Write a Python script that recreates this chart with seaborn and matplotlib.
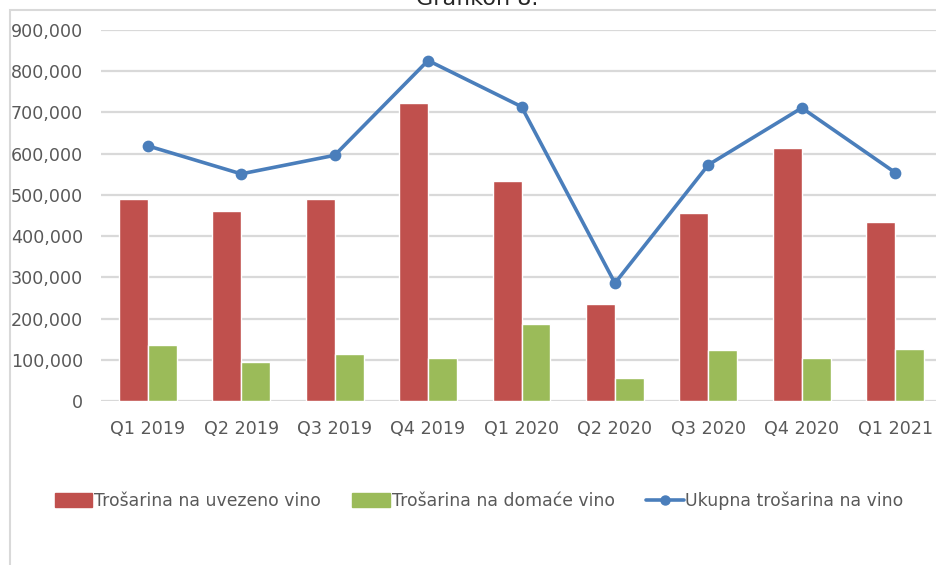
import pandas as pd
import seaborn as sns
import matplotlib.pyplot as plt
from matplotlib.patches import Rectangle
from matplotlib.ticker import FuncFormatter

quarters = ['Q1 2019', 'Q2 2019', 'Q3 2019', 'Q4 2019', 'Q1 2020',
            'Q2 2020', 'Q3 2020', 'Q4 2020', 'Q1 2021']
uvezeno = [489000, 462000, 489000, 724000, 534000, 235000, 455000, 613000, 435000]
domace = [136000, 95000, 115000, 104000, 187000, 57000, 123000, 104000, 126000]
ukupno = [619000, 551000, 596000, 826000, 714000, 286000, 573000, 711000, 554000]

lbl_uv = 'Trošarina na uvezeno vino'
lbl_do = 'Trošarina na domaće vino'
lbl_uk = 'Ukupna trošarina na vino'

red = '#C0504D'
green = '#9BBB59'
blue = '#4A7EBB'
grey_txt = '#595959'
grid_c = '#D9D9D9'

if __name__ == '__main__':
    sns.set_style('white')
    plt.rcParams['font.family'] = ['DejaVu Sans']

    df = pd.DataFrame({
        'kvartal': quarters * 2,
        'serija': [lbl_uv] * len(quarters) + [lbl_do] * len(quarters),
        'iznos': uvezeno + domace,
    })

    fig = plt.figure(figsize=(9.36, 5.65), dpi=100)
    ax = fig.add_axes([101 / 936, 1 - 401 / 565, 841 / 936, 371 / 565])

    sns.barplot(data=df, x='kvartal', y='iznos', hue='serija', order=quarters,
                palette=[red, green], width=0.62, saturation=1, ax=ax, legend=False)
    sns.pointplot(x=quarters, y=ukupno, color=blue, markers='o', markersize=6.5,
                  linewidth=2.6, ax=ax)

    ax.set_ylim(0, 900000)
    ax.set_xlim(-0.5, len(quarters) - 0.5)
    ax.set_yticks(range(0, 900001, 100000))
    ax.yaxis.set_major_formatter(FuncFormatter(lambda v, p: f'{int(v):,}'))
    ax.grid(axis='y', color=grid_c, linewidth=1.6)
    ax.set_axisbelow(True)
    for s in ax.spines.values():
        s.set_visible(False)
    ax.tick_params(axis='both', length=0, labelsize=12.6, labelcolor=grey_txt)
    ax.tick_params(axis='y', pad=13)
    ax.tick_params(axis='x', pad=14)
    ax.set_xlabel('')
    ax.set_ylabel('')

    # legend
    handles = [Rectangle((0, 0), 1, 1, color=red),
               Rectangle((0, 0), 1, 1, color=green),
               plt.Line2D([0], [0], color=blue, lw=2.6, marker='o', markersize=6.5)]
    fig.legend(handles, [lbl_uv, lbl_do, lbl_uk], loc='center',
               bbox_to_anchor=(479 / 936, 1 - 501 / 565), ncol=3, frameon=False,
               fontsize=12.4, labelcolor=grey_txt, handlelength=2.2, handleheight=0.9,
               handletextpad=0.1, columnspacing=1.8)

    # outer chart frame and cut off caption
    fig.patches.append(Rectangle((10 / 936, -0.1), 1.2, 1 - 10 / 565 + 0.1,
                                 transform=fig.transFigure, fill=False,
                                 edgecolor=grid_c, linewidth=1.5))
    fig.text(477 / 936, 1 - 5 / 565, 'Grafikon 8.', ha='center', va='baseline',
             fontsize=16, color='#262626')

    plt.savefig('out.png', dpi=100)
    print("ok")
